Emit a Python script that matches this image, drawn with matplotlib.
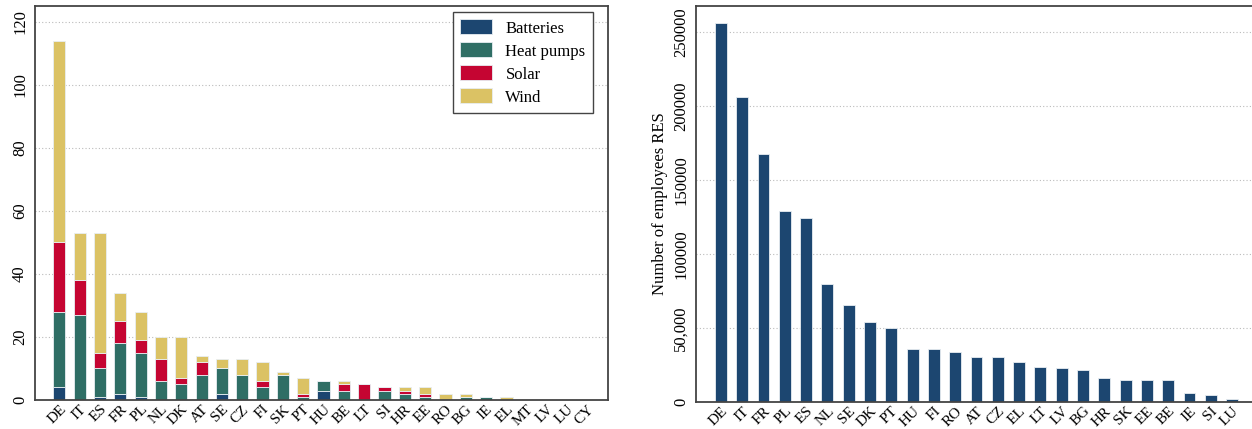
import numpy as np
import matplotlib
matplotlib.use("Agg")
import matplotlib.pyplot as plt

plt.rcParams['font.family'] = ['Liberation Serif', 'DejaVu Serif']

# left panel: number of ... by technology
countries = ['DE', 'IT', 'ES', 'FR', 'PL', 'NL', 'DK', 'AT', 'SE', 'CZ', 'FI', 'SK', 'PT', 'HU',
             'BE', 'LT', 'SI', 'HR', 'EE', 'RO', 'BG', 'IE', 'EL', 'MT', 'LV', 'LU', 'CY']
batteries = [4, 0, 1, 2, 1, 0, 0, 0, 2, 0, 0, 0, 0, 3, 0, 0, 0, 0, 0, 0, 0, 0, 0, 0, 0, 0, 0]
heat_pumps = [24, 27, 9, 16, 14, 6, 5, 8, 8, 8, 4, 8, 1, 3, 3, 0, 3, 2, 1, 0, 1, 1, 0, 0, 0, 0, 0]
solar = [22, 11, 5, 7, 4, 7, 2, 4, 0, 0, 2, 0, 1, 0, 2, 5, 1, 1, 1, 0, 0, 0, 0, 0, 0, 0, 0]
wind = [64, 15, 38, 9, 9, 7, 13, 2, 3, 5, 6, 1, 5, 0, 1, 0, 0, 1, 2, 2, 1, 0, 1, 0, 0, 0, 0]

# right panel: employees in renewable energy sector
emp_countries = ['DE', 'IT', 'FR', 'PL', 'ES', 'NL', 'SE', 'DK', 'PT', 'HU', 'FI', 'RO', 'AT',
                 'CZ', 'EL', 'LT', 'LV', 'BG', 'HR', 'SK', 'EE', 'BE', 'IE', 'SI', 'LU']
employees = [256500, 206000, 167800, 129000, 124300, 79400, 65600, 54100, 49900, 35700, 35700,
             33400, 30200, 30000, 26600, 23500, 22800, 21200, 16200, 14900, 14700, 14600,
             5900, 4500, 2000]

c_batt = '#1c4670'
c_hp = '#2f6e65'
c_solar = '#c50532'
c_wind = '#dbc264'
edge = '#e8eef2'

fig = plt.figure(figsize=(12.52, 4.29), dpi=100)
ax1 = fig.add_axes([35/1252, 1 - 400/429, (608-35)/1252, (400-6)/429])
ax2 = fig.add_axes([696/1252, 1 - 401.7/429, (1257-696)/1252, (401.7-6)/429])

x = np.arange(len(countries))
b = np.array(batteries)
h = np.array(heat_pumps)
s = np.array(solar)
w = np.array(wind)
kw = dict(width=0.6, edgecolor=edge, linewidth=0.6)
ax1.bar(x, b, color=c_batt, label='Batteries', **kw)
ax1.bar(x, h, bottom=b, color=c_hp, label='Heat pumps', **kw)
ax1.bar(x, s, bottom=b + h, color=c_solar, label='Solar', **kw)
ax1.bar(x, w, bottom=b + h + s, color=c_wind, label='Wind', **kw)
ax1.set_xlim(-1.2, len(countries) - 0.0)
ax1.set_ylim(0, 125)
ax1.set_yticks([0, 20, 40, 60, 80, 100, 120])
ax1.set_xticks(x)
ax1.set_xticklabels(countries, rotation=45, ha='right', rotation_mode='anchor')
leg = ax1.legend(loc='upper right', bbox_to_anchor=(0.974, 0.985), borderaxespad=0,
                 fontsize=12, fancybox=False, framealpha=1, edgecolor='#444444',
                 handlelength=1.9, handleheight=1.0, labelspacing=0.35, borderpad=0.45)
leg.get_frame().set_linewidth(1.0)

x2 = np.arange(len(emp_countries))
ax2.bar(x2, employees, width=0.56, color=c_batt, edgecolor=edge, linewidth=0.6)
ax2.set_xlim(-1.17, len(emp_countries) + 0.17)
ax2.set_ylim(0, 267800)
ax2.set_yticks([0, 50000, 100000, 150000, 200000, 250000])
ax2.set_yticklabels(['0', '50,000', '100000', '150000', '200000', '250000'])
ax2.set_xticks(x2)
ax2.set_xticklabels(emp_countries, rotation=45, ha='right', rotation_mode='anchor')
ax2.set_ylabel('Number of employees RES', fontsize=12, labelpad=4)

for ax in (ax1, ax2):
    ax.yaxis.grid(True, linestyle=(0, (1, 2)), color='#bbbbbb', linewidth=0.8)
    ax.set_axisbelow(True)
    for sp in ax.spines.values():
        sp.set_color('#444444')
        sp.set_linewidth(1.3)
    ax.tick_params(axis='y', length=0, labelsize=12, pad=5)
    ax.tick_params(axis='x', length=0, labelsize=11, pad=2)
    for lab in ax.get_yticklabels():
        lab.set_rotation(90)
        lab.set_va('center')

fig.savefig('out.png', dpi=100)
